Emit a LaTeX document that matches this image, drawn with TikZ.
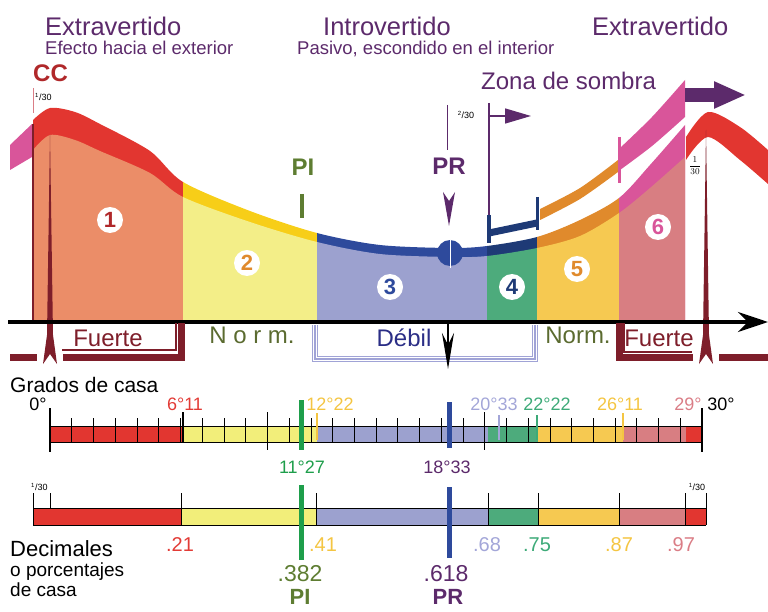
\documentclass[tikz,border=0pt]{standalone}
\usepackage{fontspec}
\setmainfont{Liberation Sans}
\usetikzlibrary{arrows.meta}
\definecolor{purp}{RGB}{92,42,107}
\definecolor{ccred}{RGB}{176,40,42}
\definecolor{redband}{RGB}{226,54,48}
\definecolor{yelband}{RGB}{247,206,24}
\definecolor{navyband}{RGB}{46,74,156}
\definecolor{darknavy}{RGB}{30,58,118}
\definecolor{orangeband}{RGB}{224,138,44}
\definecolor{pinkband}{RGB}{217,85,154}
\definecolor{reg1}{RGB}{235,141,104}
\definecolor{reg2}{RGB}{243,238,136}
\definecolor{topyel}{RGB}{242,238,122}
\definecolor{reg3}{RGB}{156,161,207}
\definecolor{reg4}{RGB}{77,171,124}
\definecolor{reg5}{RGB}{246,201,81}
\definecolor{reg6}{RGB}{216,126,130}
\definecolor{maroon}{RGB}{126,30,42}
\definecolor{olive}{RGB}{94,125,50}
\definecolor{normtxt}{RGB}{91,107,48}
\definecolor{debtxt}{RGB}{43,46,134}
\definecolor{lav}{RGB}{160,163,214}
\definecolor{pigreen}{RGB}{30,158,75}
\definecolor{redtxt}{RGB}{226,59,54}
\definecolor{goldtxt}{RGB}{244,197,66}
\definecolor{lavtxt}{RGB}{163,166,216}
\definecolor{greentxt}{RGB}{61,170,120}
\definecolor{rosetxt}{RGB}{218,125,134}
\tikzstyle{title}=[font=\fontsize{25.5}{26}\selectfont,text=purp,inner sep=0pt,anchor=base west]
\tikzstyle{subtitle}=[font=\fontsize{18.5}{19}\selectfont,text=purp,inner sep=0pt,anchor=base west]
\tikzstyle{tag}=[font=\bfseries\fontsize{24}{24}\selectfont,inner sep=0pt]
\tikzstyle{numblob}=[circle,fill=white,inner sep=0pt,minimum size=26pt,font=\bfseries\fontsize{22}{22}\selectfont]
\tikzstyle{zone}=[font=\fontsize{24}{24}\selectfont,inner sep=0pt]
\tikzstyle{deg}=[font=\fontsize{18}{18}\selectfont,inner sep=0pt]
\tikzstyle{dec}=[font=\fontsize{20}{20}\selectfont,inner sep=0pt]
\tikzstyle{small}=[font=\fontsize{9}{9}\selectfont,inner sep=0pt]
\tikzstyle{legend}=[font=\fontsize{21}{21}\selectfont,inner sep=0pt,anchor=base west]
\newcommand\bandtop{plot[smooth] coordinates {(33,120) (50,108) (75,112) (100,124) (150,151) (183,182) (250,211) (317,233) (380,245) (450,248) (487,246) (537,237) (580,220) (619,198) (650,165) (685,125)}}
\newcommand\bandbot{plot[smooth] coordinates {(33,150) (50,135) (75,140) (100,151) (150,173) (183,197) (250,222) (317,242) (380,254) (450,257) (487,256) (537,248) (580,236) (619,213) (650,188) (685,157)}}
\begin{document}
\begin{tikzpicture}[x=1pt,y=-1pt]
\useasboundingbox (0,0) rectangle (768,612);
\foreach \a/\b/\bc/\rc in {33/183/redband/reg1,183/317/yelband/reg2,317/487/navyband/reg3,487/537/darknavy/reg4,537/619/orangeband/reg5,619/685/pinkband/reg6}{
  \begin{scope}
    \clip (\a,0) rectangle (\b,322);
    \fill[\bc] \bandtop -- (685,322) -- (33,322) -- cycle;
    \fill[\rc] \bandbot -- (685,322) -- (33,322) -- cycle;
  \end{scope}
}
\fill[pinkband] (10,145) -- (32,124) -- (32,157) -- (10,170) -- cycle;
\fill[redband] plot[smooth] coordinates {(686,137) (708,112) (740,127) (768,150)} -- plot[smooth] coordinates {(768,184) (740,160) (708,137) (686,160)} -- cycle;
\fill[orangeband] plot[smooth] coordinates {(540,209) (580,188) (618,160)} -- plot[smooth] coordinates {(618,172) (580,199) (540,220)} -- cycle;
\fill[pinkband] plot[smooth] coordinates {(620,148) (652,117) (685,80)} -- plot[smooth] coordinates {(685,117) (652,146) (620,170)} -- cycle;
\draw[pinkband, line width=3pt] (619,137) -- (619,183);
\draw[darknavy, line width=7pt] (489,233) -- (537,223);
\draw[darknavy, line width=4pt] (489,215) -- (489,243);
\draw[darknavy, line width=3pt] (537,197) -- (537,230);
\fill[navyband] (450,253) circle (13pt);
\draw[white, line width=1pt] (450,240) -- (450,268);
\draw[maroon, line width=1.2pt] (33,124) -- (33,322);
\draw[rosetxt, line width=0.8pt] (33,88) -- (33,113);
\fill[maroon] (50,135) -- (53,335) -- (57,364) -- (50,354) -- (43,364) -- (47,335) -- cycle;
\fill[maroon] (706,130) -- (709,335) -- (713,364) -- (706,354) -- (699,364) -- (703,335) -- cycle;
\coordinate (axL) at (8,322);
\coordinate (axR) at (768,322);
\draw[line width=3.5pt, -{Stealth[length=30pt,width=20pt]}] (axL) -- (axR);
\draw[maroon, line width=7pt] (10,357) -- (37,357) (63,357) -- (181,357) -- (181,323);
\draw[maroon, line width=1.2pt] (62,350) -- (176,350) -- (176,323);
\draw[maroon, line width=7pt] (619,323) -- (619,357) -- (693,357) (719,357) -- (768,357);
\draw[maroon, line width=1.2pt] (624,323) -- (624,352) -- (692,352);
\draw[lav, line width=1.1pt, double=white, double distance=3.4pt] (315,325) -- (315,359) -- (535,359) -- (535,325);
\draw[lav, line width=1.1pt] (315,325) -- (315,359) -- (535,359) -- (535,325);
\coordinate (dbTop) at (448,322);
\coordinate (dbBot) at (448,369);
\draw[line width=1.5pt, -{Stealth[length=36pt,width=12pt]}] (dbTop) -- (dbBot);
\coordinate (sh1) at (489,103);
\coordinate (sh2) at (489,215);
\draw[purp, line width=2.5pt] (sh1) -- (sh2);
\coordinate (sa1) at (489,116);
\coordinate (sa2) at (531,116);
\draw[purp, line width=1.5pt, -{Triangle[length=26pt,width=15pt]}] (sa1) -- (sa2);
\coordinate (zs1) at (685,95);
\coordinate (zs2) at (746,95);
\draw[purp, line width=14pt, -{Triangle[length=32pt,width=25pt]}] (zs1) -- (zs2);
\draw[purp, line width=1pt] (447,105) -- (447,150);
\fill[purp] (443,192) -- (449,201) -- (455,192) -- (449,226) -- cycle;
\draw[olive, line width=4pt] (302,194) -- (302,218);
\node[title] at (45,36) (ext1) {Extravertido};
\node[subtitle] at (45,55) (sub1) {Efecto hacia el exterior};
\node[title] at (323,36) (intro) {Introvertido};
\node[subtitle] at (297,55) (sub2) {Pasivo, escondido en el interior};
\node[title] at (592,36) (ext2) {Extravertido};
\node[tag, text=ccred, anchor=base west] at (33,82) (cc) {CC};
\node[zone, text=purp, anchor=base west] at (481,90) (zona) {Zona de sombra};
\node[small, anchor=west] at (35,97) (fr1) {\textsuperscript{1}/30};
\node[small] at (466,115) (fr2) {\textsuperscript{2}/30};
\node[small] at (695,166) (fr3) {$\displaystyle\frac{1}{30}$};
\node[tag, text=olive] at (303,167) (pi) {PI};
\node[tag, text=purp] at (449,166) (pr) {PR};
\node[numblob, text=ccred] at (110,220) (n1) {1};
\node[numblob, text=orangeband] at (247,263) (n2) {2};
\node[numblob, text=navyband] at (390,287) (n3) {3};
\node[numblob, text=darknavy] at (512,287) (n4) {4};
\node[numblob, text=orangeband] at (577,269) (n5) {5};
\node[numblob, text=pinkband] at (658,227) (n6) {6};
\node[zone, text=maroon] at (108,338) (fu1) {Fuerte};
\node[zone, text=normtxt] at (252,335) (no1) {N o r m.};
\node[zone, text=debtxt] at (404,338) (deb) {Débil};
\node[zone, text=normtxt] at (578,335) (no2) {Norm.};
\node[zone, text=maroon] at (659,338) (fu2) {Fuerte};
\node[legend] at (10,392) (grados) {Grados de casa};
\foreach \a/\b/\c in {50/183/redband,183/317/topyel,317/488/reg3,488/538/reg4,538/623/reg5,623/686/reg6,686/702/redband}
  \fill[\c] (\a,426) rectangle (\b,442);
\draw[line width=1pt] (50,426) -- (702,426) (50,442) -- (702,442);
\foreach \i in {0,...,30}
  \draw[line width=0.6pt] ({50+\i*21.733},418) -- ({50+\i*21.733},442);
\foreach \i in {0,30}
  \draw[line width=1.4pt] ({50+\i*21.733},408) -- ({50+\i*21.733},452);
\foreach \i in {10,20}
  \draw[line width=1.4pt] ({50+\i*21.733},412) -- ({50+\i*21.733},450);
\draw[line width=1.4pt] (183,412) -- (183,442);
\draw[goldtxt, line width=1.6pt] (317,413) -- (317,440);
\draw[lavtxt, line width=1.6pt] (499,415) -- (499,440);
\draw[greentxt, line width=1.6pt] (537,415) -- (537,440);
\draw[goldtxt, line width=1.6pt] (623,413) -- (623,440);
\draw[pigreen, line width=5pt] (301,400) -- (301,450);
\draw[navyband, line width=5pt] (449,402) -- (449,448);
\node[deg] at (38,404) (d0) {0°};
\node[deg, text=redtxt] at (185,404) (d6) {6°11};
\node[deg, text=goldtxt] at (330,404) (d12) {12°22};
\node[deg, text=lavtxt] at (494,404) (d20) {20°33};
\node[deg, text=greentxt] at (547,404) (d22) {22°22};
\node[deg, text=goldtxt] at (620,404) (d26) {26°11};
\node[deg, text=rosetxt] at (688,404) (d29) {29°};
\node[deg] at (721,404) (d30) {30°};
\node[deg, text=pigreen] at (302,467) (d11) {11°27};
\node[deg, text=purp] at (447,467) (d18) {18°33};
\foreach \a/\b/\c in {33/181/redband,181/316/topyel,316/488/reg3,488/538/reg4,538/619/reg5,619/685/reg6,685/706/redband}
  \fill[\c] (\a,508) rectangle (\b,525);
\draw[line width=1pt] (33,508) -- (706,508) (33,525) -- (706,525);
\foreach \x in {33,181,316,488,538,619,685,706}
  \draw[line width=1pt] (\x,493) -- (\x,525);
\draw[line width=1pt] (50,493) -- (50,508);
\draw[pigreen, line width=5pt] (301,485) -- (301,560);
\draw[navyband, line width=5pt] (449,487) -- (449,558);
\node[small, anchor=west] at (31,487) (fr4) {\textsuperscript{1}/30};
\node[small] at (697,487) (fr5) {\textsuperscript{1}/30};
\node[dec, text=redtxt] at (180,545) (p21) {.21};
\node[dec, text=goldtxt] at (323,545) (p41) {.41};
\node[dec, text=lavtxt] at (487,545) (p68) {.68};
\node[dec, text=greentxt] at (537,545) (p75) {.75};
\node[dec, text=goldtxt] at (619,545) (p87) {.87};
\node[dec, text=rosetxt] at (681,545) (p97) {.97};
\node[dec, font=\fontsize{23}{23}\selectfont, text=olive] at (300,574) (p382) {.382};
\node[dec, font=\fontsize{23}{23}\selectfont, text=purp] at (446,574) (p618) {.618};
\node[tag, font=\bfseries\fontsize{22}{22}\selectfont, text=olive] at (300,597) (pi2) {PI};
\node[tag, font=\bfseries\fontsize{22}{22}\selectfont, text=purp] at (448,597) (pr2) {PR};
\node[legend, font=\fontsize{22}{22}\selectfont] at (10,556) (decim) {Decimales};
\node[legend, font=\fontsize{19}{19}\selectfont] at (10,576) (porc) {o porcentajes};
\node[legend, font=\fontsize{19}{19}\selectfont] at (10,596) (dcasa) {de casa};
\end{tikzpicture}
\end{document}
